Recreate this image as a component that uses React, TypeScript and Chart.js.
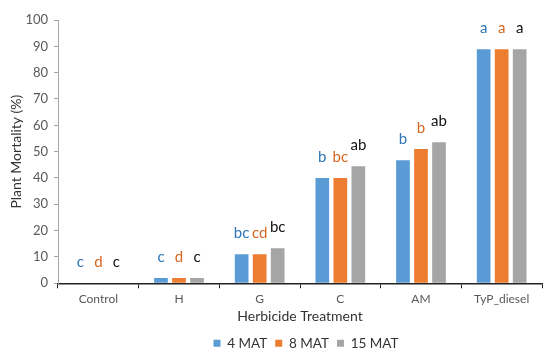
import React, { useEffect, useRef } from "react";
import { Chart, registerables } from "chart.js";

Chart.register(...registerables);

const categories = ["Control", "H", "G", "C", "AM", "TyP_diesel"];
const seriesNames = ["4 MAT", "8 MAT", "15 MAT"];
const mat4 = [0, 2, 11, 40, 46.7, 88.9];
const mat8 = [0, 2, 11, 40, 51, 88.9];
const mat15 = [0, 2, 13.3, 44.5, 53.6, 88.9];
const letters4 = ["c", "c", "bc", "b", "b", "a"];
const letters8 = ["d", "d", "cd", "bc", "b", "a"];
const letters15 = ["c", "c", "bc", "ab", "ab", "a"];
const yTicks = [0, 10, 20, 30, 40, 50, 60, 70, 80, 90, 100];

const barColors = ["#5B9BD5", "#ED7D31", "#A5A5A5"];
const letterColors = ["#2E75B6", "#D9661F", "#111111"];
const FONT = "Lato, 'Open Sans', sans-serif";

const letterPlugin = {
  id: "letters",
  afterDatasetsDraw(chart: any) {
    const ctx = chart.ctx;
    const all = [letters4, letters8, letters15];
    ctx.save();
    ctx.font = `15px ${FONT}`;
    ctx.textAlign = "center";
    ctx.textBaseline = "middle";
    chart.data.datasets.forEach((_: any, di: number) => {
      const meta = chart.getDatasetMeta(di);
      meta.data.forEach((bar: any, i: number) => {
        ctx.fillStyle = letterColors[di];
        ctx.fillText(all[di][i], bar.x, bar.y - 21);
      });
    });
    ctx.restore();
  },
};

const legendShift = {
  id: "legendShift",
  afterLayout(chart: any) {
    const lg = chart.legend;
    if (!lg) return;
    lg.left += 35;
    lg.right += 35;
  },
};

export default function App() {
  const ref = useRef<HTMLCanvasElement>(null);
  useEffect(() => {
    if (!ref.current) return;
    const chart = new Chart(ref.current, {
      type: "bar",
      data: {
        labels: categories,
        datasets: [mat4, mat8, mat15].map((d, i) => ({
          label: seriesNames[i],
          data: d,
          backgroundColor: barColors[i],
          borderWidth: 0,
          categoryPercentage: 0.67,
          barPercentage: 0.76,
        })),
      },
      options: {
        animation: false,
        responsive: false,
        maintainAspectRatio: false,
        layout: { padding: { top: 20, right: 8, left: 0, bottom: -4 } },
        plugins: {
          legend: {
            position: "bottom",
            labels: {
              boxWidth: 7,
              boxHeight: 7,
              padding: 8,
              color: "#333333",
              font: { family: FONT, size: 13.5 },
            },
          },
          tooltip: { enabled: false },
        },
        scales: {
          x: {
            grid: {
              display: true,
              drawOnChartArea: false,
              drawTicks: true,
              tickLength: 5,
              offset: true,
              color: "#222222",
            },
            border: { color: "#222222", width: 1.5 },
            ticks: { color: "#595959", font: { family: FONT, size: 12 }, padding: 4 },
            title: {
              display: true,
              text: "Herbicide Treatment",
              color: "#333333",
              font: { family: FONT, size: 14 },
              padding: { top: -3, bottom: 4 },
            },
          },
          y: {
            min: 0,
            max: 100,
            afterBuildTicks: (s: any) => {
              s.ticks = yTicks.map((v) => ({ value: v }));
            },
            afterFit: (s: any) => {
              s.width = 58;
            },
            grid: {
              display: true,
              drawOnChartArea: false,
              drawTicks: true,
              tickLength: 4,
              color: "#A6A6A6",
            },
            border: { color: "#A6A6A6", width: 1 },
            ticks: { color: "#595959", font: { family: FONT, size: 13 }, padding: 6 },
            title: {
              display: true,
              text: "Plant Mortality (%)",
              color: "#333333",
              font: { family: FONT, size: 14 },
              padding: { top: 8, bottom: 0 },
            },
          },
        },
      },
      plugins: [letterPlugin, legendShift],
    });
    return () => chart.destroy();
  }, []);
  return (
    <div style={{ position: "absolute", left: 0, top: 0, width: 550, height: 356, background: "#fff" }}>
      <canvas ref={ref} width={550} height={356} />
    </div>
  );
}
